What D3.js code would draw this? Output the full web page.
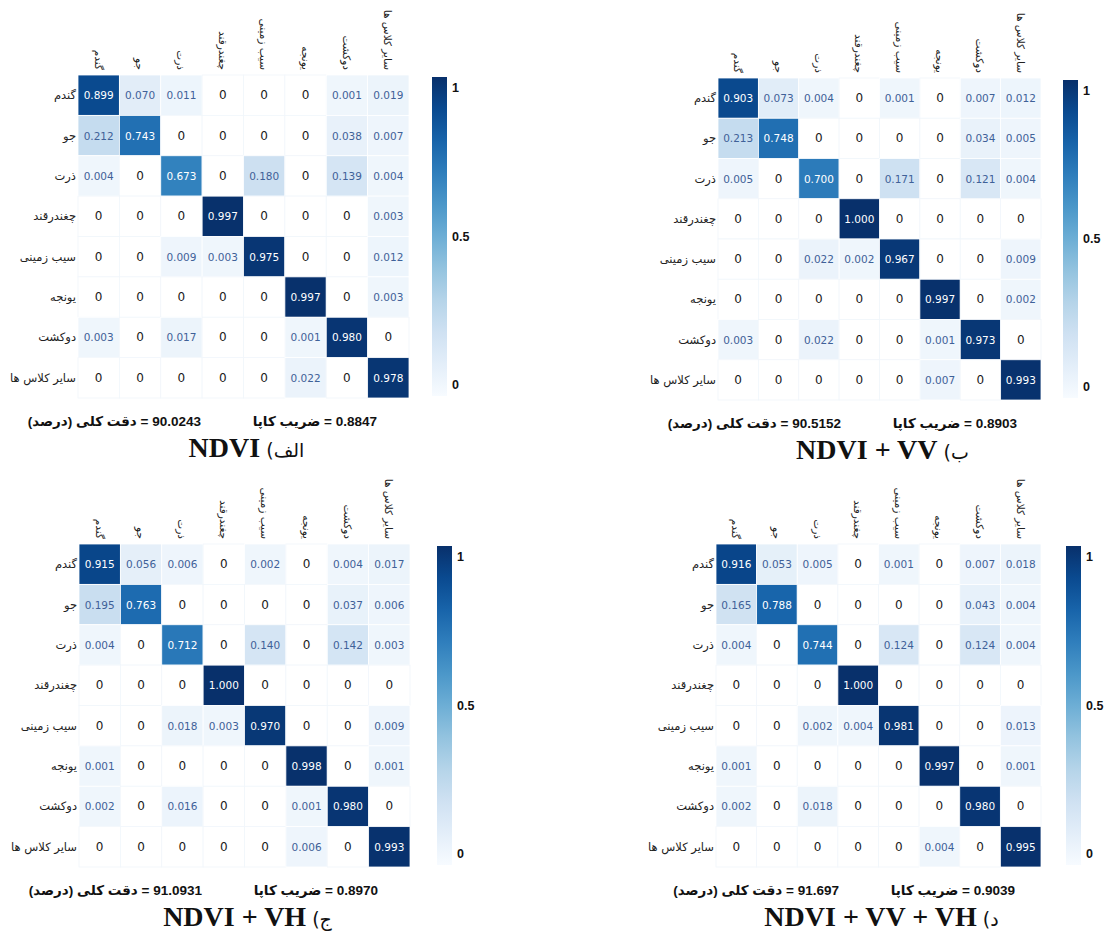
<!DOCTYPE html>
<html>
<head>
<meta charset="utf-8">
<script src="https://cdn.jsdelivr.net/npm/d3@7"></script>
<style>
  body { margin: 0; background: #fff; }
</style>
</head>
<body>
<div id="chart"></div>
<script>
// class names (rows = reference, columns = predicted)
const classes = ["گندم", "جو", "ذرت", "چغندرقند", "سیب زمینی", "یونجه", "دوکشت", "سایر کلاس ها"];

// confusion matrices
const ndvi = [
  [0.899, 0.070, 0.011, 0, 0, 0, 0.001, 0.019],
  [0.212, 0.743, 0, 0, 0, 0, 0.038, 0.007],
  [0.004, 0, 0.673, 0, 0.180, 0, 0.139, 0.004],
  [0, 0, 0, 0.997, 0, 0, 0, 0.003],
  [0, 0, 0.009, 0.003, 0.975, 0, 0, 0.012],
  [0, 0, 0, 0, 0, 0.997, 0, 0.003],
  [0.003, 0, 0.017, 0, 0, 0.001, 0.980, 0],
  [0, 0, 0, 0, 0, 0.022, 0, 0.978]
];
const ndviVV = [
  [0.903, 0.073, 0.004, 0, 0.001, 0, 0.007, 0.012],
  [0.213, 0.748, 0, 0, 0, 0, 0.034, 0.005],
  [0.005, 0, 0.700, 0, 0.171, 0, 0.121, 0.004],
  [0, 0, 0, 1.000, 0, 0, 0, 0],
  [0, 0, 0.022, 0.002, 0.967, 0, 0, 0.009],
  [0, 0, 0, 0, 0, 0.997, 0, 0.002],
  [0.003, 0, 0.022, 0, 0, 0.001, 0.973, 0],
  [0, 0, 0, 0, 0, 0.007, 0, 0.993]
];
const ndviVH = [
  [0.915, 0.056, 0.006, 0, 0.002, 0, 0.004, 0.017],
  [0.195, 0.763, 0, 0, 0, 0, 0.037, 0.006],
  [0.004, 0, 0.712, 0, 0.140, 0, 0.142, 0.003],
  [0, 0, 0, 1.000, 0, 0, 0, 0],
  [0, 0, 0.018, 0.003, 0.970, 0, 0, 0.009],
  [0.001, 0, 0, 0, 0, 0.998, 0, 0.001],
  [0.002, 0, 0.016, 0, 0, 0.001, 0.980, 0],
  [0, 0, 0, 0, 0, 0.006, 0, 0.993]
];
const ndviVVVH = [
  [0.916, 0.053, 0.005, 0, 0.001, 0, 0.007, 0.018],
  [0.165, 0.788, 0, 0, 0, 0, 0.043, 0.004],
  [0.004, 0, 0.744, 0, 0.124, 0, 0.124, 0.004],
  [0, 0, 0, 1.000, 0, 0, 0, 0],
  [0, 0, 0.002, 0.004, 0.981, 0, 0, 0.013],
  [0.001, 0, 0, 0, 0, 0.997, 0, 0.001],
  [0.002, 0, 0.018, 0, 0, 0, 0.980, 0],
  [0, 0, 0, 0, 0, 0.004, 0, 0.995]
];

const kappa = ["0.8847", "0.8903", "0.8970", "0.9039"];
const accuracy = ["90.0243", "90.5152", "91.0931", "91.697"];
const letters = ["الف", "ب", "ج", "د"];
const titles = ["NDVI", "NDVI + VV", "NDVI + VH", "NDVI + VV + VH"];
const colorTicks = [0, 0.5, 1];

const matrices = [ndvi, ndviVV, ndviVH, ndviVVVH];

const width = 1105, height = 932;

// where each heatmap sits on the page
const frames = [
  { x: 78, y: 75, w: 331, h: 323, cb: 432 },
  { x: 718, y: 78, w: 323, h: 322, cb: 1063 },
  { x: 79, y: 544, w: 331, h: 323, cb: 437 },
  { x: 716, y: 544, w: 325, h: 323, cb: 1066 }
];

const svg = d3.select("#chart")
  .append("svg")
  .attr("width", width)
  .attr("height", height)
  .style("background", "#fff");

const color = d3.scaleSequential(d3.interpolateBlues).domain([-0.04, 1]);

// gradient for the colour bars
const grad = svg.append("defs").append("linearGradient")
  .attr("id", "blues")
  .attr("x1", 0).attr("y1", 1).attr("x2", 0).attr("y2", 0);
d3.range(0, 1.01, 0.1).forEach(t => {
  grad.append("stop").attr("offset", t).attr("stop-color", d3.interpolateBlues(t));
});

const arFont = "DejaVu Sans, sans-serif";
const LRM = "\u200E", RLM = "\u200F";

frames.forEach((f, i) => {
  const m = matrices[i];
  const g = svg.append("g");

  const x = d3.scaleBand().domain(d3.range(classes.length)).range([f.x, f.x + f.w]);
  const y = d3.scaleBand().domain(d3.range(classes.length)).range([f.y, f.y + f.h]);

  const cells = [];
  m.forEach((row, r) => row.forEach((v, c) => cells.push({ r, c, v })));

  g.selectAll("rect.cell")
    .data(cells)
    .enter()
    .append("rect")
    .attr("class", "cell")
    .attr("x", d => x(d.c))
    .attr("y", d => y(d.r))
    .attr("width", x.bandwidth())
    .attr("height", y.bandwidth())
    .attr("fill", d => d.v === 0 ? "#fff" : color(d.v))
    .attr("stroke", d => d.v === 0 ? "#f1f6fb" : "#fff")
    .attr("stroke-width", 0.8);

  g.selectAll("text.val")
    .data(cells)
    .enter()
    .append("text")
    .attr("class", "val")
    .attr("x", d => x(d.c) + x.bandwidth() / 2)
    .attr("y", d => y(d.r) + y.bandwidth() / 2)
    .attr("text-anchor", "middle")
    .attr("dominant-baseline", "central")
    .style("font-family", "DejaVu Sans, sans-serif")
    .style("font-size", d => d.v === 0 ? "12px" : "10.5px")
    .style("fill", d => d.v >= 0.5 ? "#fff" : (d.v === 0 ? "#1a1a1a" : "#3f6198"))
    .text(d => d.v === 0 ? "0" : d3.format(".3f")(d.v));

  // row labels
  g.selectAll("text.row")
    .data(classes)
    .enter()
    .append("text")
    .attr("class", "row")
    .attr("x", f.x - 2)
    .attr("y", (d, k) => y(k) + y.bandwidth() / 2)
    .attr("text-anchor", "end")
    .attr("dominant-baseline", "central")
    .style("font-family", arFont)
    .style("font-size", "11.5px")
    .style("fill", "#222")
    .text(d => d);

  // column labels, turned on their side
  g.selectAll("text.col")
    .data(classes)
    .enter()
    .append("text")
    .attr("class", "col")
    .attr("transform", (d, k) => `translate(${x(k) + x.bandwidth() / 2},${f.y - 5}) rotate(90)`)
    .attr("text-anchor", "end")
    .attr("dominant-baseline", "central")
    .style("font-family", arFont)
    .style("font-size", "10.5px")
    .style("fill", "#222")
    .text(d => d);

  // colour bar
  const cbTop = f.y + 2, cbBottom = f.y + f.h - 2;
  g.append("rect")
    .attr("x", f.cb)
    .attr("y", cbTop)
    .attr("width", 15)
    .attr("height", cbBottom - cbTop)
    .attr("fill", "url(#blues)");

  const cbScale = d3.scaleLinear().domain([0, 1]).range([cbBottom - 11, cbTop + 11]);
  g.selectAll("text.cbtick")
    .data(colorTicks)
    .enter()
    .append("text")
    .attr("class", "cbtick")
    .attr("x", f.cb + 20)
    .attr("y", d => cbScale(d))
    .attr("dominant-baseline", "central")
    .style("font-family", "Liberation Sans, Arial, sans-serif")
    .style("font-weight", "bold")
    .style("font-size", "12.5px")
    .style("fill", "#111")
    .text(d => d3.format("")(d));

  // kappa and overall accuracy (Arabic on the left, number on the right)
  const statY = f.y + f.h + 28;
  g.append("text")
    .attr("x", f.x + 299)
    .attr("y", statY)
    .attr("text-anchor", "end")
    .style("font-family", "Liberation Sans, DejaVu Sans, sans-serif")
    .style("font-weight", "bold")
    .style("font-size", "13.5px")
    .style("fill", "#111")
    .text(`ضریب کاپا${RLM}${LRM} = ${kappa[i]}`);

  g.append("text")
    .attr("x", f.x + 123)
    .attr("y", statY)
    .attr("text-anchor", "end")
    .style("font-family", "Liberation Sans, DejaVu Sans, sans-serif")
    .style("font-weight", "bold")
    .style("font-size", "13.5px")
    .style("fill", "#111")
    .text(`دقت کلی (درصد)${RLM}${LRM} = ${accuracy[i]}`);

  // panel title: "NDVI (الف" read left to right
  const title = g.append("text")
    .attr("x", f.x + f.w / 2 + 3)
    .attr("y", f.y + f.h + 59)
    .attr("text-anchor", "middle")
    .style("fill", "#111");
  title.append("tspan")
    .style("font-family", "Liberation Serif, Times New Roman, serif")
    .style("font-weight", "bold")
    .style("font-size", "28px")
    .text(titles[i]);
  title.append("tspan")
    .style("font-family", arFont)
    .style("font-size", "19px")
    .text(` (${letters[i]}`);
});
</script>
</body>
</html>
